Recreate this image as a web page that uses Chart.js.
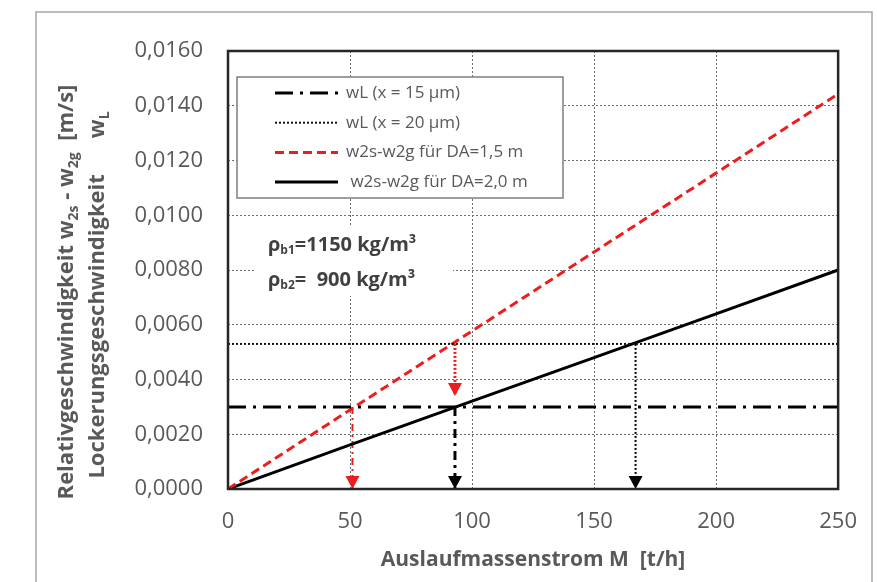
<!DOCTYPE html>
<html>
<head>
<meta charset="utf-8">
<script src="https://cdn.jsdelivr.net/npm/chart.js@4.4.1/dist/chart.umd.min.js"></script>
<style>
  body { margin: 0; background: #fff; }
  #wrap { width: 877px; height: 582px; }
</style>
</head>
<body>
<div id="wrap"><canvas id="chart" width="877" height="582"></canvas></div>
<script>
// values
const massFlow = [0, 50, 100, 150, 200, 250];
const relSpeedDA15 = [0, 0.00289, 0.00577, 0.00866, 0.01154, 0.01443];
const relSpeedDA20 = [0, 0.00161, 0.00321, 0.00480, 0.00640, 0.00800];
const wLRange = [0, 250];
const wL15 = [0.0030, 0.0030];
const wL20 = [0.0053, 0.0053];
// helper arrows: x position, start value, end value
const arrowX = [51, 93, 93, 167];
const arrowFrom = [0.0030, 0.0053, 0.0030, 0.0053];
const arrowTo = [0, 0.0034, 0, 0];
const xTicks = [0, 50, 100, 150, 200, 250];
const yTicks = [0, 0.002, 0.004, 0.006, 0.008, 0.010, 0.012, 0.014, 0.016];
const seriesLabels = ["wL (x = 15 µm)", "wL (x = 20 µm)", "w2s-w2g für DA=1,5 m", " w2s-w2g für DA=2,0 m"];

const RED = "#ee1d1d";
const GREY_TEXT = "#595959";
const FONT = "'Open Sans', 'DejaVu Sans', sans-serif";

const arrowColor = [RED, RED, "#000", "#000"];
const arrowWidth = [2, 3, 3, 2];
const arrowDash = [[7, 4, 2, 4], [2, 2], [9, 5, 3, 5], [2, 2]];

const pts = (xs, ys) => xs.map((x, i) => ({ x: x, y: ys[i] }));

const datasets = [
  { label: seriesLabels[0], data: pts(wLRange, wL15), borderColor: "#000", borderWidth: 3, borderDash: [18, 7, 3, 7] },
  { label: seriesLabels[1], data: pts(wLRange, wL20), borderColor: "#111", borderWidth: 2, borderDash: [2, 2] },
  { label: seriesLabels[2], data: pts(massFlow, relSpeedDA15), borderColor: RED, borderWidth: 3, borderDash: [9, 5] },
  { label: seriesLabels[3], data: pts(massFlow, relSpeedDA20), borderColor: "#000", borderWidth: 3 },
];
arrowX.forEach((x, i) => {
  datasets.push({
    label: "",
    arrow: true,
    data: [{ x: x, y: arrowFrom[i] }, { x: x, y: arrowTo[i] }],
    borderColor: arrowColor[i],
    borderWidth: arrowWidth[i],
    borderDash: arrowDash[i],
  });
});

function measureRuns(ctx, runs, size) {
  let total = 0;
  runs.forEach(r => {
    if (r.gap) { total += r.gap; return; }
    ctx.font = "bold " + (r.sub ? Math.round(size * 0.62) : size) + "px " + FONT;
    r.w = ctx.measureText(r.t).width;
    total += r.w;
  });
  return total;
}

function paintRuns(ctx, runs, size, x0, y0) {
  let x = x0;
  runs.forEach(r => {
    if (r.gap) { x += r.gap; return; }
    ctx.font = "bold " + (r.sub ? Math.round(size * 0.62) : size) + "px " + FONT;
    ctx.fillText(r.t, x, y0 + (r.sub ? size * 0.3 : 0));
    x += r.w;
  });
}

const decor = {
  id: "decor",
  beforeDraw(chart) {
    const ctx = chart.ctx;
    ctx.save();
    ctx.fillStyle = "#fff";
    ctx.fillRect(0, 0, chart.width, chart.height);
    ctx.strokeStyle = "#a6a6a6";
    ctx.lineWidth = 1.5;
    ctx.strokeRect(36, 12, 836, 620);
    ctx.restore();
  },
  afterDatasetsDraw(chart) {
    const ctx = chart.ctx;
    const area = chart.chartArea;
    ctx.save();

    // arrow heads at the end of helper lines
    chart.data.datasets.forEach((ds, i) => {
      if (!ds.arrow) return;
      const p = chart.getDatasetMeta(i).data;
      const tip = p[p.length - 1];
      ctx.fillStyle = ds.borderColor;
      ctx.beginPath();
      ctx.moveTo(tip.x, tip.y);
      ctx.lineTo(tip.x - 7, tip.y - 13);
      ctx.lineTo(tip.x + 7, tip.y - 13);
      ctx.closePath();
      ctx.fill();
    });

    // plot frame
    ctx.strokeStyle = "#262626";
    ctx.lineWidth = 2.5;
    ctx.strokeRect(area.left, area.top, area.right - area.left, area.bottom - area.top);

    // legend box inside the plot
    const bx = area.left + 9, by = area.top + 26, bw = 326, bh = 121;
    ctx.fillStyle = "#fff";
    ctx.fillRect(bx, by, bw, bh);
    ctx.strokeStyle = "#7f7f7f";
    ctx.lineWidth = 1.5;
    ctx.strokeRect(bx, by, bw, bh);
    ctx.textBaseline = "middle";
    ctx.textAlign = "left";
    ctx.font = "17px " + FONT;
    chart.data.datasets.filter(d => d.label).forEach((ds, i) => {
      const y = by + 16 + i * 29.7;
      ctx.save();
      ctx.strokeStyle = ds.borderColor;
      ctx.lineWidth = ds.borderWidth;
      ctx.setLineDash(ds.borderDash || []);
      ctx.beginPath();
      ctx.moveTo(bx + 38, y);
      ctx.lineTo(bx + 101, y);
      ctx.stroke();
      ctx.restore();
      ctx.fillStyle = GREY_TEXT;
      ctx.fillText(ds.label, bx + 109, y);
    });

    // density note on a white patch
    ctx.fillStyle = "#fff";
    ctx.fillRect(area.left + 27, 226, 198, 70);
    ctx.fillStyle = "#404040";
    const size = 20;
    const note1 = [{ t: "ρ" }, { t: "b1", sub: true }, { t: "=1150 kg/m³" }];
    const note2 = [{ t: "ρ" }, { t: "b2", sub: true }, { t: "=  900 kg/m³" }];
    measureRuns(ctx, note1, size);
    paintRuns(ctx, note1, size, area.left + 40, 245);
    measureRuns(ctx, note2, size);
    paintRuns(ctx, note2, size, area.left + 40, 280);
    ctx.restore();
  },
  afterDraw(chart) {
    // two line y-axis title with subscripts
    const ctx = chart.ctx;
    const size = 22;
    const line1 = [{ t: "Relativgeschwindigkeit w" }, { t: "2s", sub: true }, { t: " - w" }, { t: "2g", sub: true }, { t: "  [m/s]" }];
    const line2 = [{ t: "Lockerungsgeschwindigkeit" }, { gap: 36 }, { t: "w" }, { t: "L", sub: true }];
    ctx.save();
    ctx.fillStyle = GREY_TEXT;
    ctx.textBaseline = "middle";
    ctx.textAlign = "left";
    [[line1, 67, 292], [line2, 98, 295]].forEach(([runs, cx, cy]) => {
      const w = measureRuns(ctx, runs, size);
      ctx.save();
      ctx.translate(cx, cy);
      ctx.rotate(-Math.PI / 2);
      paintRuns(ctx, runs, size, -w / 2, 0);
      ctx.restore();
    });
    ctx.restore();
  }
};

const gridStyle = { color: "#6e6e6e", lineWidth: 1, drawTicks: false };

new Chart(document.getElementById("chart"), {
  type: "scatter",
  data: { datasets: datasets },
  options: {
    responsive: false,
    animation: false,
    showLine: true,
    layout: { padding: { left: 0, top: 51, right: 38, bottom: 0 } },
    elements: {
      point: { radius: 0, hoverRadius: 0 },
      line: { tension: 0, fill: false, borderCapStyle: "butt" },
    },
    plugins: {
      legend: { display: false },
      tooltip: { enabled: false },
    },
    scales: {
      x: {
        type: "linear",
        min: 0,
        max: 250,
        afterBuildTicks: s => { s.ticks = xTicks.map(v => ({ value: v })); },
        afterFit: s => { s.height = 93; },
        grid: gridStyle,
        border: { display: false, dash: [2, 2] },
        ticks: { padding: 20, color: GREY_TEXT, font: { family: FONT, size: 22 } },
        title: {
          display: true,
          text: "Auslaufmassenstrom M  [t/h]",
          color: GREY_TEXT,
          font: { family: FONT, size: 21, weight: "bold" },
          padding: { top: 0, bottom: 9 },
        },
      },
      y: {
        type: "linear",
        min: 0,
        max: 0.016,
        afterBuildTicks: s => { s.ticks = yTicks.map(v => ({ value: v })); },
        afterFit: s => { s.width = 228; },
        grid: gridStyle,
        border: { display: false, dash: [2, 2] },
        ticks: {
          padding: 25,
          color: GREY_TEXT,
          font: { family: FONT, size: 22 },
          callback: v => v.toFixed(4).replace(".", ","),
        },
      },
    },
  },
  plugins: [decor],
});
</script>
</body>
</html>
